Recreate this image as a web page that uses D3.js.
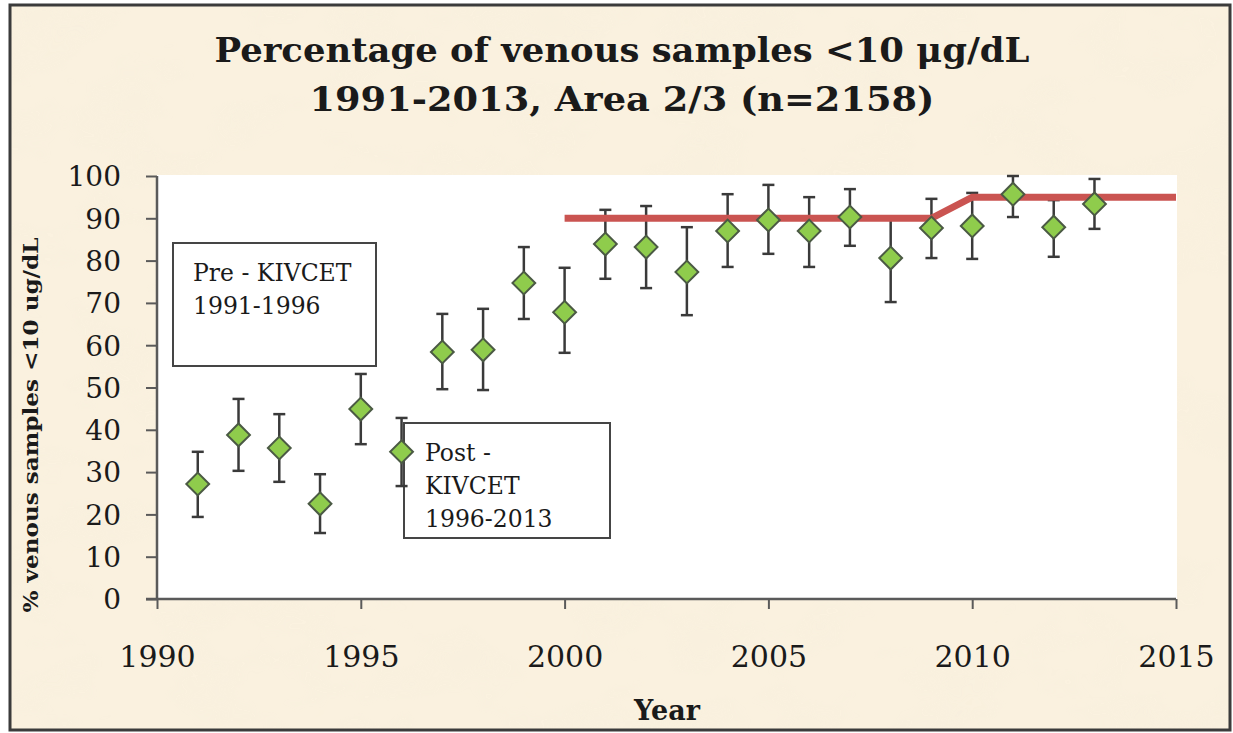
<!DOCTYPE html>
<html>
<head>
<meta charset="utf-8">
<script src="https://cdn.jsdelivr.net/npm/d3@7"></script>
<style>
  html, body { margin: 0; padding: 0; background: #ffffff; }
  svg { display: block; }
  text { font-family: "DejaVu Serif", "Liberation Serif", serif; fill: #1a1a1a; }
</style>
</head>
<body>
<svg id="chart" width="1233" height="733"></svg>
<script>
// values
var years = [1991, 1992, 1993, 1994, 1995, 1996, 1997, 1998, 1999, 2000, 2001, 2002,
  2003, 2004, 2005, 2006, 2007, 2008, 2009, 2010, 2011, 2012, 2013];
var pctBelow10 = [27.2, 38.8, 35.7, 22.5, 44.9, 34.8, 58.4, 58.9, 74.7, 67.8, 83.9, 83.2,
  77.3, 87.0, 89.6, 87.0, 90.3, 80.6, 87.7, 88.2, 95.7, 87.9, 93.4];
var upperCI = [34.8, 47.3, 43.7, 29.5, 53.2, 42.8, 67.4, 68.6, 83.2, 78.3, 92.0, 92.9,
  87.9, 95.7, 97.9, 95.0, 96.9, 90.1, 94.6, 96.0, 100, 94.3, 99.3];
var lowerCI = [19.4, 30.3, 27.7, 15.6, 36.6, 26.7, 49.6, 49.4, 66.2, 58.2, 75.7, 73.5,
  67.1, 78.5, 81.6, 78.5, 83.5, 70.2, 80.6, 80.4, 90.3, 80.9, 87.5];

var targetYears = [2000, 2009, 2010, 2015];
var targetPct = [90, 90, 95, 95];

var xTicks = [1990, 1995, 2000, 2005, 2010, 2015];
var yTicks = [0, 10, 20, 30, 40, 50, 60, 70, 80, 90, 100];

var titleLines = ["Percentage of venous samples <10 \u03bcg/dL", "1991-2013, Area 2/3 (n=2158)"];
var preLabel = ["Pre - KIVCET", "1991-1996"];
var postLabel = ["Post -", "KIVCET", "1996-2013"];

(function () {
  var svg = d3.select("#chart");
  var plot = { left: 157, right: 1176, top: 176, bottom: 599 };

  var x = d3.scaleLinear().domain([1990, 2015]).range([plot.left, plot.right]);
  var y = d3.scaleLinear().domain([0, 100]).range([plot.bottom, plot.top]);

  var defs = svg.append("defs");
  var filt = defs.append("filter").attr("id", "paper")
    .attr("x", 0).attr("y", 0).attr("width", "100%").attr("height", "100%");
  filt.append("feTurbulence").attr("type", "fractalNoise")
    .attr("baseFrequency", "0.012 0.02").attr("numOctaves", 3).attr("seed", 4).attr("result", "n");
  filt.append("feColorMatrix").attr("in", "n").attr("type", "matrix")
    .attr("values", "0 0 0 0 0.93  0 0 0 0 0.86  0 0 0 0 0.72  0 0 0 -1.4 0.8");

  // parchment background + frame
  svg.append("rect").attr("x", 10).attr("y", 5).attr("width", 1220).attr("height", 725)
    .attr("fill", "#faf1df");
  svg.append("rect").attr("x", 10).attr("y", 5).attr("width", 1220).attr("height", 725)
    .attr("fill", "#000").attr("filter", "url(#paper)").attr("opacity", 0.7);
  svg.append("rect").attr("x", 10).attr("y", 5).attr("width", 1220).attr("height", 725)
    .attr("fill", "none").attr("stroke", "#3b3b3b").attr("stroke-width", 3);

  // title
  svg.selectAll("text.title").data(titleLines).enter().append("text")
    .attr("class", "title")
    .attr("x", 622).attr("y", function (d, i) { return 62 + i * 49; })
    .attr("text-anchor", "middle")
    .attr("font-size", 34).attr("font-weight", "bold")
    .attr("textLength", function (d, i) { return i === 0 ? 815 : 625; })
    .attr("lengthAdjust", "spacingAndGlyphs")
    .text(function (d) { return d; });

  // white plot area
  svg.append("rect")
    .attr("x", plot.left).attr("y", plot.top - 1)
    .attr("width", plot.right - plot.left + 1).attr("height", plot.bottom - plot.top + 1)
    .attr("fill", "#ffffff");

  // axes
  var axisColor = "#5a5a5a";
  var yAxis = svg.append("g").attr("transform", "translate(" + plot.left + ",0)")
    .call(d3.axisLeft(y).tickValues(yTicks).tickSize(11).tickPadding(6).tickFormat(d3.format("d")));
  var xAxis = svg.append("g").attr("transform", "translate(0," + plot.bottom + ")")
    .call(d3.axisBottom(x).tickValues(xTicks).tickSize(10).tickPadding(0).tickFormat(d3.format("d")));

  [yAxis, xAxis].forEach(function (g) {
    g.select(".domain").attr("stroke", axisColor).attr("stroke-width", 2.5);
    g.selectAll(".tick line").attr("stroke", axisColor).attr("stroke-width", 2);
    g.selectAll(".tick text").attr("font-family", "DejaVu Serif").attr("fill", "#1a1a1a");
  });
  yAxis.select(".domain").attr("d", "M0," + plot.top + "V" + plot.bottom);
  xAxis.select(".domain").attr("d", "M" + (plot.left - 11) + ",0H" + plot.right);
  yAxis.selectAll(".tick text").attr("font-size", 28).attr("dy", "0.35em").attr("x", -36);
  xAxis.selectAll(".tick text").attr("font-size", 30).attr("dy", 0).attr("y", 68);

  svg.append("text")
    .attr("transform", "translate(38," + 425 + ") rotate(-90)")
    .attr("text-anchor", "middle")
    .attr("font-size", 21).attr("font-weight", "bold")
    .attr("textLength", 375).attr("lengthAdjust", "spacingAndGlyphs")
    .text("% venous samples <10 ug/dL");

  svg.append("text")
    .attr("x", 667).attr("y", 720)
    .attr("text-anchor", "middle")
    .attr("font-size", 27).attr("font-weight", "bold")
    .text("Year");

  // annotation boxes
  function noteBox(x0, y0, w, h, lines, tx, ty, step) {
    svg.append("rect").attr("x", x0).attr("y", y0).attr("width", w).attr("height", h)
      .attr("fill", "#ffffff").attr("stroke", "#454545").attr("stroke-width", 2);
    svg.selectAll(null).data(lines).enter().append("text")
      .attr("x", tx).attr("y", function (d, i) { return ty + i * step; })
      .attr("font-size", 23.5)
      .text(function (d) { return d; });
  }
  noteBox(173, 243, 203, 123, preLabel, 193, 281, 33);
  noteBox(404, 423, 206, 115, postLabel, 425, 461, 33);

  var pts = years.map(function (yr, i) {
    return { year: yr, v: pctBelow10[i], hi: upperCI[i], lo: lowerCI[i] };
  });

  // error bars
  var eb = svg.append("g").attr("stroke", "#3a3a3a").attr("stroke-width", 2.5);
  eb.selectAll("line.bar").data(pts).enter().append("line")
    .attr("x1", function (d) { return x(d.year); }).attr("x2", function (d) { return x(d.year); })
    .attr("y1", function (d) { return y(d.hi); }).attr("y2", function (d) { return y(d.lo); });
  ["hi", "lo"].forEach(function (k) {
    eb.selectAll("line.cap-" + k).data(pts).enter().append("line")
      .attr("x1", function (d) { return x(d.year) - 6; }).attr("x2", function (d) { return x(d.year) + 6; })
      .attr("y1", function (d) { return y(d[k]); }).attr("y2", function (d) { return y(d[k]); });
  });

  // target line
  var target = targetYears.map(function (yr, i) { return [yr, targetPct[i]]; });
  svg.append("path").datum(target)
    .attr("fill", "none").attr("stroke", "#ca5451").attr("stroke-width", 7)
    .attr("d", d3.line().x(function (d) { return x(d[0]); }).y(function (d) { return y(d[1]); }));

  // diamonds
  var diamond = d3.symbol().type(d3.symbolSquare).size(260);
  svg.append("g").selectAll("path").data(pts).enter().append("path")
    .attr("d", diamond)
    .attr("transform", function (d) { return "translate(" + x(d.year) + "," + y(d.v) + ") rotate(45)"; })
    .attr("fill", "#8fcc4c").attr("stroke", "#4b5a44").attr("stroke-width", 2);
})();
</script>
</body>
</html>
